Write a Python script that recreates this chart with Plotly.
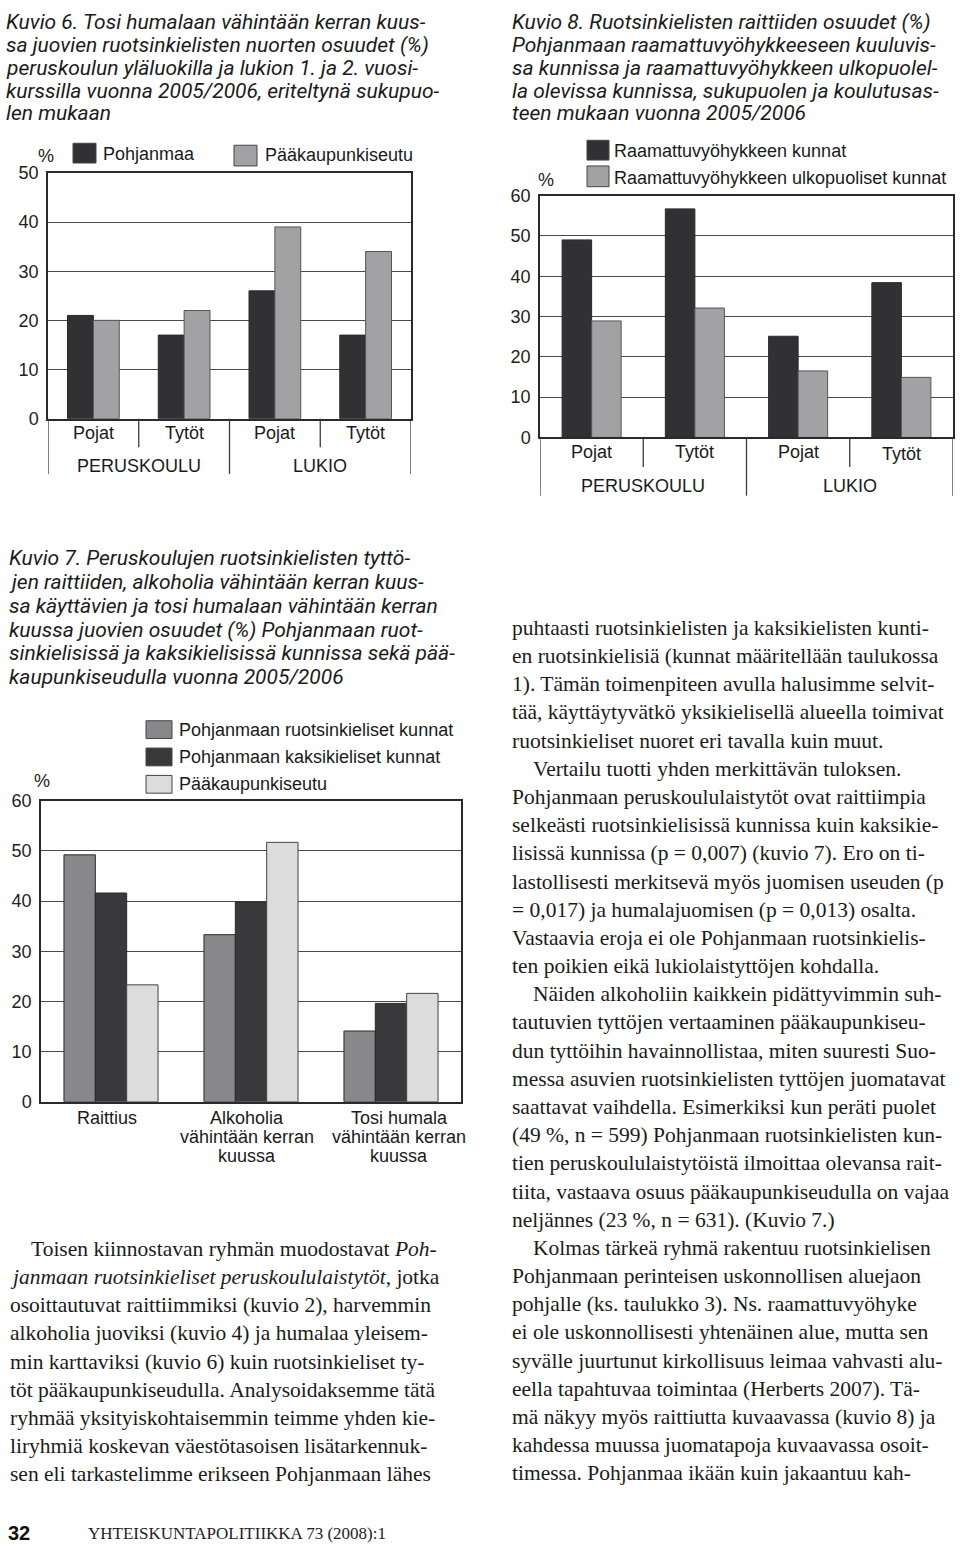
import plotly.graph_objects as go

W, H = 960, 1553

# ---------------- data ----------------
# Kuvio 6
k6_categories = ["Peruskoulu pojat", "Peruskoulu tytöt", "Lukio pojat", "Lukio tytöt"]
k6_labels = ["Pojat", "Tytöt", "Pojat", "Tytöt"]
k6_groups = ["PERUSKOULU", "LUKIO"]
k6_series = ["Pohjanmaa", "Pääkaupunkiseutu"]
k6_pohjanmaa = [21, 17, 26, 17]
k6_paakaupunkiseutu = [20, 22, 39, 34]

# Kuvio 8
k8_categories = ["Peruskoulu pojat", "Peruskoulu tytöt", "Lukio pojat", "Lukio tytöt"]
k8_labels = ["Pojat", "Tytöt", "Pojat", "Tytöt"]
k8_groups = ["PERUSKOULU", "LUKIO"]
k8_series = ["Raamattuvyöhykkeen kunnat", "Raamattuvyöhykkeen ulkopuoliset kunnat"]
k8_raamattu = [49, 56.7, 25.1, 38.4]
k8_ulkopuoliset = [28.9, 32.1, 16.5, 14.9]

# Kuvio 7
k7_categories = ["Raittius", "Alkoholia vähintään kerran kuussa", "Tosi humala vähintään kerran kuussa"]
k7_label_lines = [["Raittius"], ["Alkoholia", "vähintään kerran", "kuussa"],
                  ["Tosi humala", "vähintään kerran", "kuussa"]]
k7_series = ["Pohjanmaan ruotsinkieliset kunnat", "Pohjanmaan kaksikieliset kunnat", "Pääkaupunkiseutu"]
k7_ruotsinkieliset = [49.2, 33.3, 14.1]
k7_kaksikieliset = [41.6, 39.8, 19.6]
k7_paakaupunkiseutu = [23.3, 51.7, 21.6]

# ---------------- text ----------------
cap6 = ["Kuvio 6. Tosi humalaan vähintään kerran kuus-",
        "sa juovien ruotsinkielisten nuorten osuudet (%)",
        "peruskoulun yläluokilla ja lukion 1. ja 2. vuosi-",
        "kurssilla vuonna 2005/2006, eriteltynä sukupuo-",
        "len mukaan"]
cap8 = ["Kuvio 8. Ruotsinkielisten raittiiden osuudet (%)",
        "Pohjanmaan raamattuvyöhykkeeseen kuuluvis-",
        "sa kunnissa ja raamattuvyöhykkeen ulkopuolel-",
        "la olevissa kunnissa, sukupuolen ja koulutusas-",
        "teen mukaan vuonna 2005/2006"]
cap7 = ["Kuvio 7. Peruskoulujen ruotsinkielisten tyttö-",
        "jen raittiiden, alkoholia vähintään kerran kuus-",
        "sa käyttävien ja tosi humalaan vähintään kerran",
        "kuussa juovien osuudet (%) Pohjanmaan ruot-",
        "sinkielisissä ja kaksikielisissä kunnissa sekä pää-",
        "kaupunkiseudulla vuonna 2005/2006"]
right_text = [
    (0, "puhtaasti ruotsinkielisten ja kaksikielisten kunti-"),
    (0, "en ruotsinkielisiä (kunnat määritellään taulukossa"),
    (0, "1). Tämän toimenpiteen avulla halusimme selvit-"),
    (0, "tää, käyttäytyvätkö yksikielisellä alueella toimivat"),
    (0, "ruotsinkieliset nuoret eri tavalla kuin muut."),
    (1, "Vertailu tuotti yhden merkittävän tuloksen."),
    (0, "Pohjanmaan peruskoululaistytöt ovat raittiimpia"),
    (0, "selkeästi ruotsinkielisissä kunnissa kuin kaksikie-"),
    (0, "lisissä kunnissa (p = 0,007) (kuvio 7). Ero on ti-"),
    (0, "lastollisesti merkitsevä myös juomisen useuden (p"),
    (0, "= 0,017) ja humalajuomisen (p = 0,013) osalta."),
    (0, "Vastaavia eroja ei ole Pohjanmaan ruotsinkielis-"),
    (0, "ten poikien eikä lukiolaistyttöjen kohdalla."),
    (1, "Näiden alkoholiin kaikkein pidättyvimmin suh-"),
    (0, "tautuvien tyttöjen vertaaminen pääkaupunkiseu-"),
    (0, "dun tyttöihin havainnollistaa, miten suuresti Suo-"),
    (0, "messa asuvien ruotsinkielisten tyttöjen juomatavat"),
    (0, "saattavat vaihdella. Esimerkiksi kun peräti puolet"),
    (0, "(49 %, n = 599) Pohjanmaan ruotsinkielisten kun-"),
    (0, "tien peruskoululaistytöistä ilmoittaa olevansa rait-"),
    (0, "tiita, vastaava osuus pääkaupunkiseudulla on vajaa"),
    (0, "neljännes (23 %, n = 631). (Kuvio 7.)"),
    (1, "Kolmas tärkeä ryhmä rakentuu ruotsinkielisen"),
    (0, "Pohjanmaan perinteisen uskonnollisen aluejaon"),
    (0, "pohjalle (ks. taulukko 3). Ns. raamattuvyöhyke"),
    (0, "ei ole uskonnollisesti yhtenäinen alue, mutta sen"),
    (0, "syvälle juurtunut kirkollisuus leimaa vahvasti alu-"),
    (0, "eella tapahtuvaa toimintaa (Herberts 2007). Tä-"),
    (0, "mä näkyy myös raittiutta kuvaavassa (kuvio 8) ja"),
    (0, "kahdessa muussa juomatapoja kuvaavassa osoit-"),
    (0, "timessa. Pohjanmaa ikään kuin jakaantuu kah-"),
]
left_text = [
    (1, "Toisen kiinnostavan ryhmän muodostavat <i>Poh-</i>"),
    (0, "<i>janmaan ruotsinkieliset peruskoululaistytöt</i>, jotka"),
    (0, "osoittautuvat raittiimmiksi (kuvio 2), harvemmin"),
    (0, "alkoholia juoviksi (kuvio 4) ja humalaa yleisem-"),
    (0, "min karttaviksi (kuvio 6) kuin ruotsinkieliset ty-"),
    (0, "töt pääkaupunkiseudulla. Analysoidaksemme tätä"),
    (0, "ryhmää yksityiskohtaisemmin teimme yhden kie-"),
    (0, "liryhmiä koskevan väestötasoisen lisätarkennuk-"),
    (0, "sen eli tarkastelimme erikseen Pohjanmaan lähes"),
]

# ---------------- style ----------------
SANS = "Liberation Sans, Arial, sans-serif"
NARROW = "Liberation Sans Narrow, Arial Narrow, Roboto, sans-serif"
SERIF = "Liberation Serif, Times New Roman, serif"
TXT = "#1b1b1b"
DARK = "#313133"
MID = "#a2a2a4"
K7_COLS = ["#88888b", "#39393c", "#dcdcdc"]
EDGE = "#2a2a2a"


def px(x):
    return x / W


def py(y):
    return 1 - y / H


fig = go.Figure()

bw = 0.285
fig.add_trace(go.Bar(x=k6_categories, y=k6_pohjanmaa, name=k6_series[0], width=bw, offset=-bw,
                     marker=dict(color=DARK, line=dict(color=EDGE, width=1)), xaxis="x", yaxis="y"))
fig.add_trace(go.Bar(x=k6_categories, y=k6_paakaupunkiseutu, name=k6_series[1], width=bw, offset=0,
                     marker=dict(color=MID, line=dict(color="#555", width=1)), xaxis="x", yaxis="y"))
bw8 = 0.286
fig.add_trace(go.Bar(x=k8_categories, y=k8_raamattu, name=k8_series[0], width=bw8, offset=-bw8,
                     marker=dict(color=DARK, line=dict(color=EDGE, width=1)), xaxis="x2", yaxis="y2"))
fig.add_trace(go.Bar(x=k8_categories, y=k8_ulkopuoliset, name=k8_series[1], width=bw8, offset=0,
                     marker=dict(color=MID, line=dict(color="#555", width=1)), xaxis="x2", yaxis="y2"))
bw7 = 0.224
for i, (vals, nm) in enumerate(zip([k7_ruotsinkieliset, k7_kaksikieliset, k7_paakaupunkiseutu], k7_series)):
    fig.add_trace(go.Bar(x=k7_categories, y=vals, name=nm, width=bw7, offset=-1.5 * bw7 + i * bw7,
                         marker=dict(color=K7_COLS[i], line=dict(color=EDGE if i < 2 else "#444", width=1)),
                         xaxis="x3", yaxis="y3"))

# chart geometry in pixels: (left, right, top, bottom)
G6 = (48, 411, 165, 414)
G8 = (540, 953, 188, 433)
G7 = (41, 461, 801, 1106)


def xax(g, n):
    return dict(domain=[px(g[0]), px(g[1])], type="category", range=[-0.5, n - 0.5],
                showticklabels=False, ticks="", showgrid=False, zeroline=False,
                showline=True, mirror=True, linecolor="#2a2a2a", linewidth=1.5, fixedrange=True)


def yax(g, top, anchor):
    return dict(domain=[py(g[3]), py(g[2])], range=[0, top], dtick=10, tick0=0,
                showgrid=True, gridcolor="#4a4a4a", gridwidth=1, zeroline=False,
                showline=True, mirror=True, linecolor="#2a2a2a", linewidth=1.5,
                ticks="", ticklabelstandoff=4,
                tickfont=dict(family=SANS, size=18, color="#222"), anchor=anchor, fixedrange=True)


fig.update_layout(
    width=W, height=H, autosize=False,
    margin=dict(l=0, r=0, t=0, b=0),
    paper_bgcolor="white", plot_bgcolor="white",
    showlegend=False, barmode="group",
    xaxis=dict(xax(G6, 4), anchor="y"),
    yaxis=yax(G6, 50, "x"),
    xaxis2=dict(xax(G8, 4), anchor="y2"),
    yaxis2=yax(G8, 60, "x2"),
    xaxis3=dict(xax(G7, 3), anchor="y3"),
    yaxis3=yax(G7, 60, "x3"),
)

ann = []
shapes = []


def text(t, x, y, size, family=SANS, color=TXT, xanchor="left", xref="paper", **kw):
    ann.append(dict(text=t, x=(px(x) if xref == "paper" else x), y=py(y), xref=xref, yref="paper",
                    xanchor=xanchor, yanchor="middle", showarrow=False,
                    font=dict(family=family, size=size, color=color), **kw))


# captions
for i, line in enumerate(cap6):
    text("<i>" + line + "</i>", 4, 12 + i * 23.2, 21, NARROW)
for i, line in enumerate(cap8):
    text("<i>" + line + "</i>", 510, 12 + i * 23.2, 21, NARROW)
for i, line in enumerate(cap7):
    text("<i>" + line + "</i>", 7, 555 + i * 24.2, 21, NARROW)

# body text
for i, (ind, line) in enumerate(right_text):
    text(line, 510 + ind * 21, 626 + i * 28.55, 21.5, SERIF)
for i, (ind, line) in enumerate(left_text):
    text(line, 8 + ind * 21, 1255 + i * 28.55, 21.5, SERIF)

# footer
text("<b>32</b>", 6, 1543, 20, SANS, "#111")
text("YHTEISKUNTAPOLITIIKKA 73 (2008):1", 86, 1543, 17, SERIF, "#222")


def cat_axis(xref, g, labels, groups, lab_y, grp_y, inner_bot, outer_bot, last_shift=0):
    for i, lab in enumerate(labels):
        text(lab, i, lab_y + (last_shift if i == len(labels) - 1 else 0), 18, SANS, "#1a1a1a",
             xanchor="center", xref=xref)
    for j, grp in enumerate(groups):
        text(grp, 2 * j + 0.5, grp_y, 18, SANS, "#1a1a1a", xanchor="center", xref=xref)
    for k in range(len(labels) + 1):
        bot = outer_bot if k % 2 == 0 else inner_bot
        shapes.append(dict(type="line", xref=xref, yref="paper", x0=k - 0.5, x1=k - 0.5,
                           y0=py(g[3]), y1=py(bot), line=dict(color="#3a3a3a", width=1.3)))


cat_axis("x", G6, k6_labels, k6_groups, 429, 462, 443, 470)
cat_axis("x2", G8, k8_labels, k8_groups, 448, 482, 463, 492, last_shift=2)

# Kuvio 7 category labels
xs7 = [-4, -4, 8]
for i, lines in enumerate(k7_label_lines):
    for j, l in enumerate(lines):
        text(l, i, 1122 + j * 19.6, 18, SANS, "#1a1a1a", xanchor="center", xref="x3", xshift=xs7[i])

# % labels
text("%", 36, 148, 18, SANS, "#222")
text("%", 536, 172, 18, SANS, "#222")
text("%", 32, 781, 18, SANS, "#222")


# legends
def legend_box(x0, y0, x1, y1, color, label, tx, ty):
    shapes.append(dict(type="rect", xref="paper", yref="paper", x0=px(x0), x1=px(x1),
                       y0=py(y1), y1=py(y0), fillcolor=color, line=dict(color="#444", width=1)))
    text(label, tx, ty, 18, SANS, "#1a1a1a")


legend_box(73, 135, 96, 155, DARK, k6_series[0], 101, 146)
legend_box(234, 137, 257, 158, MID, k6_series[1], 263, 147)
legend_box(587, 132, 609, 152, DARK, k8_series[0], 612, 143)
legend_box(587, 158, 609, 179, MID, k8_series[1], 612, 170)
for i, nm in enumerate(k7_series):
    legend_box(146, 720 + i * 27.7, 172, 738 + i * 27.7, K7_COLS[i], nm, 177, 729 + i * 27.7)

fig.update_layout(annotations=ann, shapes=shapes)
fig.write_html("out.html", config={"displayModeBar": False})
